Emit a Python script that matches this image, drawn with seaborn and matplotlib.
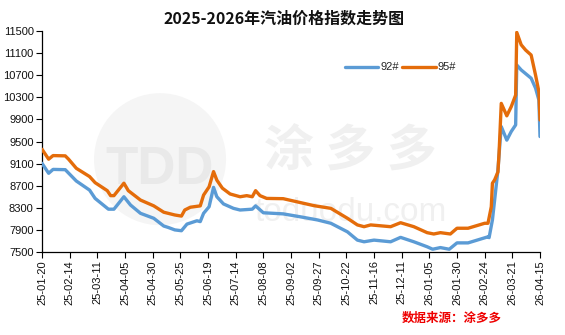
import matplotlib
matplotlib.use("Agg")
import matplotlib.pyplot as plt
import matplotlib.dates as mdates
from matplotlib.patches import Ellipse
import seaborn as sns
import pandas as pd
import numpy as np

# ---- data ----
dates_92 = ["2025-01-20", "2025-01-26", "2025-01-30", "2025-02-10", "2025-02-20", "2025-03-04",
            "2025-03-09", "2025-03-21", "2025-03-26", "2025-04-04", "2025-04-10", "2025-04-19",
            "2025-05-01", "2025-05-10", "2025-05-14", "2025-05-20", "2025-05-26", "2025-05-31",
            "2025-06-09", "2025-06-12", "2025-06-15", "2025-06-20", "2025-06-24", "2025-06-27",
            "2025-07-03", "2025-07-12", "2025-07-18", "2025-07-29", "2025-08-01", "2025-08-08",
            "2025-08-26", "2025-09-11", "2025-09-26", "2025-10-08", "2025-10-23", "2025-11-01",
            "2025-11-07", "2025-11-16", "2025-12-01", "2025-12-10", "2025-12-22", "2026-01-03",
            "2026-01-08", "2026-01-15", "2026-01-23", "2026-01-30", "2026-02-09", "2026-02-27",
            "2026-02-28", "2026-03-03", "2026-03-05", "2026-03-08", "2026-03-10", "2026-03-11",
            "2026-03-16", "2026-03-20", "2026-03-24", "2026-03-25", "2026-03-29", "2026-04-07",
            "2026-04-11", "2026-04-14", "2026-04-15"]
values_92 = [9105, 8925, 8995, 8990, 8785, 8620,
             8470, 8275, 8275, 8500, 8350, 8200,
             8110, 7970, 7945, 7900, 7885, 8005,
             8065, 8050, 8200, 8320, 8670, 8500,
             8370, 8290, 8260, 8275, 8335, 8210,
             8190, 8135, 8080, 8020, 7865, 7715,
             7685, 7715, 7685, 7765, 7685, 7595,
             7550, 7580, 7550, 7665, 7665, 7775,
             7760, 8080, 8440, 8985, 9525, 9770,
             9525, 9680, 9800, 10885, 10795, 10645,
             10465, 10250, 9590]

dates_95 = ["2025-01-20", "2025-01-26", "2025-01-30", "2025-02-10", "2025-02-13", "2025-02-20",
            "2025-03-04", "2025-03-09", "2025-03-20", "2025-03-23", "2025-03-26", "2025-04-04",
            "2025-04-08", "2025-04-19", "2025-05-01", "2025-05-10", "2025-05-20", "2025-05-26",
            "2025-05-29", "2025-06-03", "2025-06-12", "2025-06-15", "2025-06-20", "2025-06-24",
            "2025-06-27", "2025-07-02", "2025-07-09", "2025-07-18", "2025-07-24", "2025-07-29",
            "2025-08-01", "2025-08-05", "2025-08-11", "2025-08-26", "2025-09-11", "2025-09-23",
            "2025-10-08", "2025-10-23", "2025-11-01", "2025-11-07", "2025-11-13", "2025-12-01",
            "2025-12-10", "2025-12-22", "2026-01-03", "2026-01-09", "2026-01-15", "2026-01-24",
            "2026-01-30", "2026-02-09", "2026-02-24", "2026-02-27", "2026-03-02", "2026-03-03",
            "2026-03-05", "2026-03-08", "2026-03-09", "2026-03-11", "2026-03-16", "2026-03-20",
            "2026-03-24", "2026-03-25", "2026-03-29", "2026-04-02", "2026-04-07", "2026-04-11",
            "2026-04-14", "2026-04-15"]
values_95 = [9360, 9180, 9245, 9240, 9180, 9015,
             8865, 8755, 8610, 8520, 8520, 8745,
             8610, 8440, 8335, 8220, 8170, 8150,
             8260, 8310, 8335, 8530, 8680, 8955,
             8800, 8655, 8550, 8500, 8520, 8500,
             8610, 8520, 8470, 8465, 8392, 8338,
             8290, 8110, 7990, 7958, 7990, 7958,
             8030, 7958, 7850, 7826, 7850, 7826,
             7930, 7930, 8020, 8020, 8320, 8745,
             8805, 8950, 9290, 10190, 9965, 10130,
             10340, 11475, 11250, 11155, 11065, 10700,
             10400, 9890]

series_names = ["92#", "95#"]
colors = ["#5B9BD5", "#E46C0A"]
title_text = "2025-2026年汽油价格指数走势图"
source_text = "数据来源：涂多多"

df = pd.concat([
    pd.DataFrame({"date": pd.to_datetime(dates_92), "value": values_92, "series": series_names[0]}),
    pd.DataFrame({"date": pd.to_datetime(dates_95), "value": values_95, "series": series_names[1]}),
], ignore_index=True)

# ---- style ----
sns.set_theme(style="white")
plt.rcParams["font.family"] = ["Liberation Sans", "Noto Sans CJK SC", "DejaVu Sans"]

fig = plt.figure(figsize=(5.65, 3.35), dpi=100)
ax_w, ax_h = 540 - 42, 252 - 31
ax = fig.add_axes([42 / 565, (335 - 252) / 335, ax_w / 565, ax_h / 335])

# faint watermark
wm = "#f0f0f0"
r_px = 66
ax.add_patch(Ellipse((0.237, 0.42), 2 * r_px / ax_w, 2 * r_px / ax_h, transform=ax.transAxes,
                     facecolor="#f5f5f5", edgecolor="none", zorder=0))
ax.text(0.237, 0.37, "TDD", transform=ax.transAxes, ha="center", va="center",
        fontsize=38, color="#e9e9e9", fontweight="bold", zorder=0.5)
ax.text(0.62, 0.45, "涂 多 多", transform=ax.transAxes, ha="center", va="center",
        fontsize=36, color=wm, fontweight="bold", family=["Noto Sans CJK SC"], zorder=0.5)
ax.text(0.62, 0.18, "toduodu.com", transform=ax.transAxes, ha="center", va="center",
        fontsize=24, color=wm, zorder=0.5)

sns.lineplot(data=df, x="date", y="value", hue="series", palette=colors,
             hue_order=series_names, linewidth=2.4, ax=ax, legend=True, zorder=3)

start = pd.Timestamp("2025-01-20")
end = pd.Timestamp("2026-04-15")
ax.set_xlim(start, end)
ax.set_ylim(7500, 11500)
ax.set_yticks(np.arange(7500, 11501, 400))
ticks = pd.date_range(start, end, freq="25D")
ax.set_xticks(ticks)
ax.xaxis.set_major_formatter(mdates.DateFormatter("%y-%m-%d"))
plt.setp(ax.get_xticklabels(), rotation=90)
ax.tick_params(axis="both", labelsize=8, length=4, width=0.8, color="black",
               direction="out", bottom=True, left=True, pad=2, labelcolor="#111111")
ax.set_xlabel("")
ax.set_ylabel("")
for s in ["top", "right"]:
    ax.spines[s].set_visible(False)
for s in ["left", "bottom"]:
    ax.spines[s].set_color("black")
    ax.spines[s].set_linewidth(0.9)

leg = ax.legend(loc="center", bbox_to_anchor=(0.72, 0.835), ncol=2, frameon=False,
                fontsize=8, handlelength=3.0, handletextpad=0.2, columnspacing=0.3)
for line in leg.get_lines():
    line.set_linewidth(2.4)

fig.text(0.503, 0.945, title_text, ha="center", va="center", fontsize=11.5,
         fontweight="bold", family=["Noto Sans CJK SC", "DejaVu Sans"], color="#111111")
fig.text(0.80, 0.05, source_text, ha="center", va="center", fontsize=9,
         fontweight="bold", color="#ee0000", family=["Noto Sans CJK SC"])

fig.savefig("out.png", dpi=100)
